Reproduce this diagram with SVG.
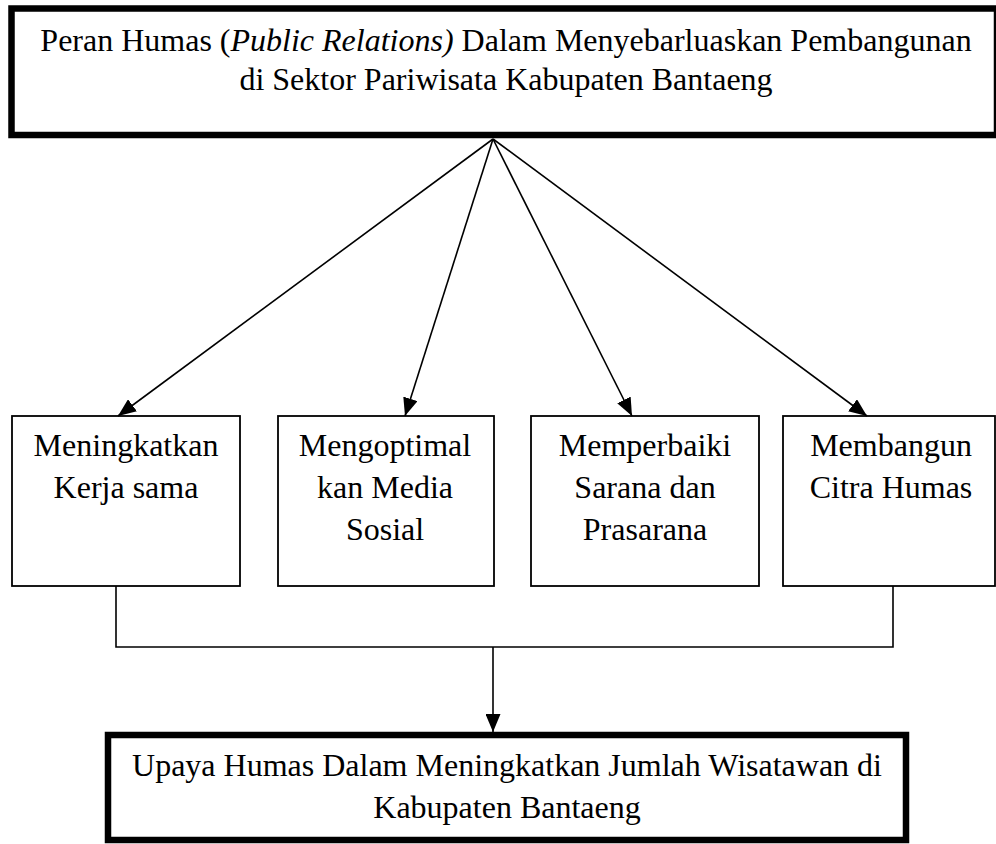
<svg xmlns="http://www.w3.org/2000/svg" width="996" height="844" viewBox="0 0 996 844">
<style>
text{font-family:"Liberation Serif","Times New Roman",serif;font-size:32px;fill:#000;text-anchor:middle}
.thick{fill:#fff;stroke:#000;stroke-width:6.5}
.box{fill:#fff;stroke:#000;stroke-width:1.8}
.conn{fill:none;stroke:#000;stroke-width:1.6}
</style>
<defs>
<marker id="ah" markerUnits="userSpaceOnUse" markerWidth="19" markerHeight="15" refX="18" refY="7.5" orient="auto">
<path d="M0,0 L18,7.5 L0,15 z" fill="#000"/>
</marker>
</defs>
<g id="top">
<rect class="thick" x="11.5" y="8.5" width="985.5" height="126.5"/>
<text x="506" y="51">Peran Humas (<tspan font-style="italic">Public Relations)</tspan> Dalam Menyebarluaskan Pembangunan</text>
<text x="506" y="90">di Sektor Pariwisata Kabupaten Bantaeng</text>
</g>
<g id="n1">
<rect class="box" x="12" y="416" width="228" height="170"/>
<text x="126" y="456">Meningkatkan</text>
<text x="126" y="498">Kerja sama</text>
</g>
<g id="n2">
<rect class="box" x="278" y="416" width="216" height="170"/>
<text x="385" y="456">Mengoptimal</text>
<text x="385" y="498">kan Media</text>
<text x="385" y="540">Sosial</text>
</g>
<g id="n3">
<rect class="box" x="531" y="416" width="228" height="170"/>
<text x="645" y="456">Memperbaiki</text>
<text x="645" y="498">Sarana dan</text>
<text x="645" y="540">Prasarana</text>
</g>
<g id="n4">
<rect class="box" x="783" y="416" width="212" height="170"/>
<text x="891" y="456">Membangun</text>
<text x="891" y="498">Citra Humas</text>
</g>
<g id="bottom">
<rect class="thick" x="108" y="735" width="798" height="105"/>
<text x="507" y="776">Upaya Humas Dalam Meningkatkan Jumlah Wisatawan di</text>
<text x="507" y="818">Kabupaten Bantaeng</text>
</g>
<g id="connectors">
<line class="conn" x1="493" y1="139" x2="118" y2="416" marker-end="url(#ah)"/>
<line class="conn" x1="493" y1="139" x2="405" y2="416" marker-end="url(#ah)"/>
<line class="conn" x1="493" y1="139" x2="632" y2="416" marker-end="url(#ah)"/>
<line class="conn" x1="493" y1="139" x2="867" y2="416" marker-end="url(#ah)"/>
<polyline class="conn" points="116,586 116,647 893,647 893,586"/>
<line class="conn" x1="493" y1="647" x2="493" y2="732" marker-end="url(#ah)"/>
</g>
</svg>
